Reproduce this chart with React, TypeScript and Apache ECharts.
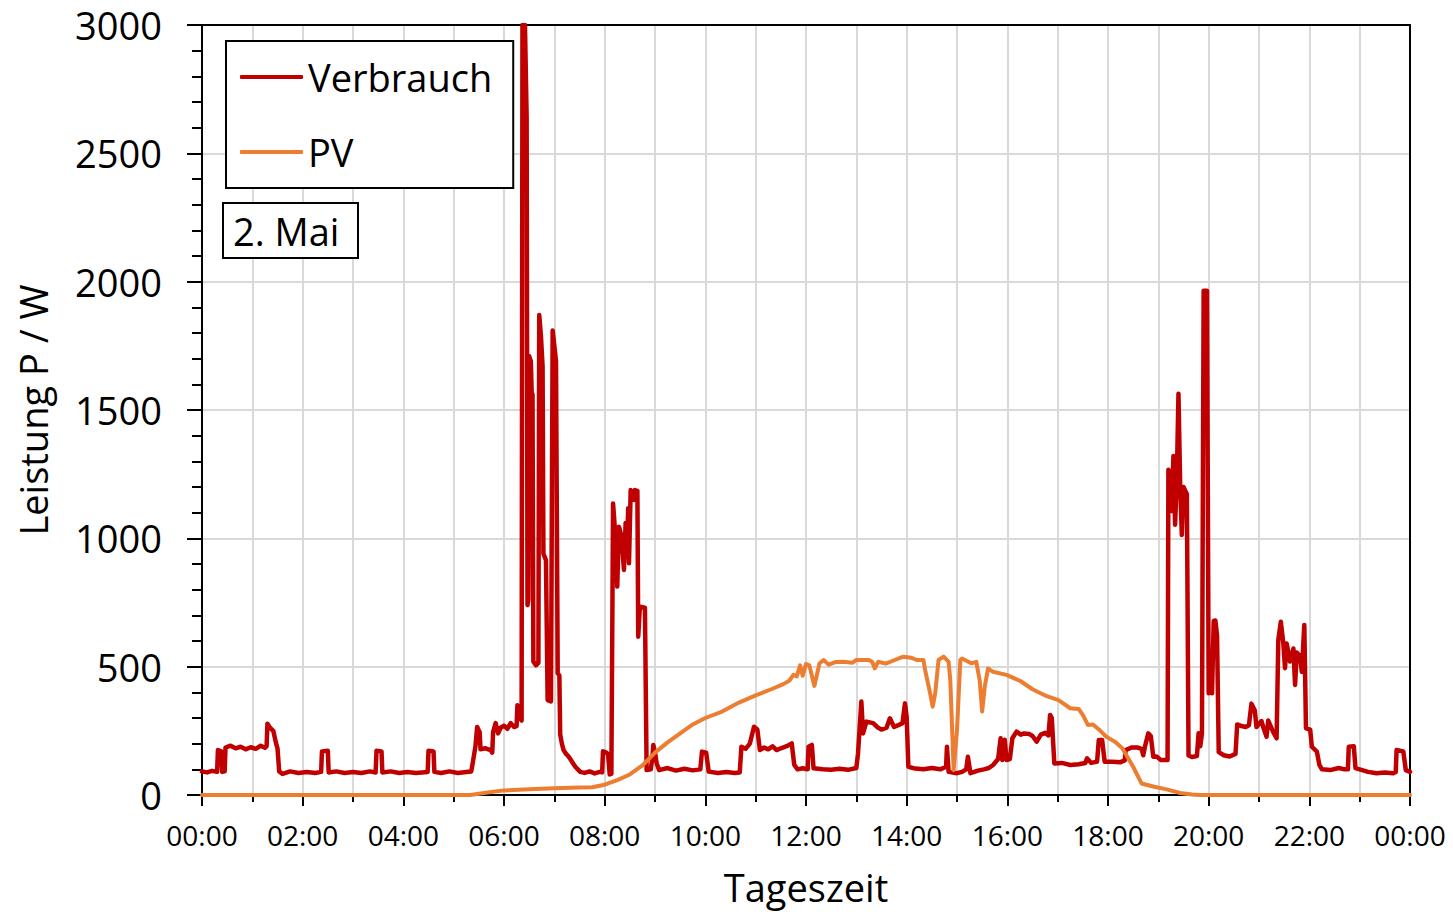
import React, { useEffect, useRef } from "react";
import * as echarts from "echarts";

const FONT = "'Open Sans', 'DejaVu Sans', sans-serif";

const seriesNames = ["Verbrauch", "PV"];
const seriesColors = ["#C00000", "#ED7D31"];
const dateLabel = "2. Mai";
const xAxisTitle = "Tageszeit";
const yAxisTitle = "Leistung P / W";

// [Uhrzeit, Leistung in W]
const verbrauch: [string, number][] = [
  ["00:00", 92], ["00:06", 88], ["00:12", 94], ["00:18", 90], ["00:19", 175], ["00:23", 170], ["00:24", 90],
  ["00:27", 92], ["00:28", 185], ["00:34", 192], ["00:40", 182], ["00:46", 188], ["00:52", 178], ["00:58", 186],
  ["01:04", 180], ["01:10", 192], ["01:15", 184], ["01:17", 190], ["01:18", 278], ["01:21", 262], ["01:25", 250],
  ["01:28", 205], ["01:30", 182], ["01:32", 92], ["01:36", 82], ["01:45", 92], ["01:55", 86], ["02:05", 90],
  ["02:15", 86], ["02:22", 90], ["02:23", 170], ["02:30", 172], ["02:31", 88], ["02:40", 92], ["02:50", 86],
  ["03:00", 90], ["03:10", 86], ["03:20", 92], ["03:27", 88], ["03:28", 172], ["03:34", 170], ["03:35", 88],
  ["03:45", 92], ["03:55", 86], ["04:05", 90], ["04:15", 86], ["04:29", 90], ["04:30", 172], ["04:36", 170],
  ["04:37", 90], ["04:45", 86], ["04:55", 92], ["05:05", 86], ["05:15", 90], ["05:21", 92], ["05:23", 130],
  ["05:26", 190], ["05:28", 265], ["05:31", 245], ["05:32", 178], ["05:38", 182], ["05:44", 175], ["05:46", 165],
  ["05:47", 245], ["05:50", 280], ["05:53", 240], ["05:56", 262], ["06:00", 270], ["06:04", 258], ["06:08", 280],
  ["06:12", 265], ["06:15", 268], ["06:16", 350], ["06:19", 300], ["06:21", 290],
  ["06:22", 3000], ["06:25", 3000], ["06:27", 2640], ["06:28", 740], ["06:29", 760], ["06:30", 1710],
  ["06:32", 1690], ["06:33", 1570], ["06:34", 1560], ["06:35", 520], ["06:38", 505], ["06:41", 515],
  ["06:42", 1870], ["06:44", 1790], ["06:46", 1670], ["06:47", 940], ["06:50", 915], ["06:52", 370],
  ["06:56", 365], ["06:58", 1810], ["07:01", 1720], ["07:02", 1690], ["07:04", 475], ["07:06", 465],
  ["07:07", 235], ["07:09", 200], ["07:11", 175], ["07:14", 160], ["07:17", 150], ["07:19", 140],
  ["07:22", 125], ["07:25", 110], ["07:28", 100], ["07:31", 90], ["07:36", 86], ["07:42", 92], ["07:48", 84],
  ["07:54", 90], ["07:57", 88], ["07:58", 170], ["08:02", 165], ["08:04", 160], ["08:06", 80], ["08:08", 82],
  ["08:10", 1136], ["08:13", 1000], ["08:15", 812], ["08:17", 1045], ["08:20", 1010], ["08:23", 877],
  ["08:25", 1060], ["08:27", 1000], ["08:28", 1117], ["08:29", 903], ["08:31", 1188], ["08:35", 1150],
  ["08:36", 1188], ["08:39", 1185], ["08:40", 617], ["08:42", 734], ["08:48", 730], ["08:50", 97],
  ["08:55", 100], ["08:57", 150], ["08:58", 195], ["09:00", 165], ["09:02", 123], ["09:05", 97], ["09:15", 105],
  ["09:25", 95], ["09:35", 102], ["09:45", 96], ["09:54", 100], ["09:56", 169], ["10:01", 165], ["10:04", 91],
  ["10:15", 86], ["10:25", 90], ["10:35", 86], ["10:41", 88], ["10:43", 188], ["10:48", 180], ["10:53", 200],
  ["10:58", 266], ["11:02", 255], ["11:05", 175], ["11:10", 185], ["11:15", 178], ["11:20", 190], ["11:25", 175],
  ["11:30", 182], ["11:37", 190], ["11:43", 201], ["11:46", 117], ["11:50", 100], ["11:56", 104], ["12:02", 100],
  ["12:03", 188], ["12:07", 195], ["12:09", 104], ["12:20", 100], ["12:30", 98], ["12:40", 102], ["12:50", 98],
  ["13:00", 105], ["13:02", 162], ["13:06", 364], ["13:08", 240], ["13:12", 286], ["13:20", 280], ["13:26", 262],
  ["13:30", 255], ["13:36", 262], ["13:40", 299], ["13:45", 265], ["13:50", 272], ["13:55", 280], ["13:58", 357],
  ["14:00", 305], ["14:02", 110], ["14:10", 103], ["14:20", 100], ["14:30", 105], ["14:40", 100], ["14:47", 110],
  ["14:48", 188], ["14:50", 90], ["15:00", 85], ["15:06", 90], ["15:11", 100], ["15:13", 149], ["15:16", 85],
  ["15:25", 95], ["15:32", 100], ["15:38", 105], ["15:43", 117], ["15:49", 140], ["15:52", 221], ["15:54", 136],
  ["15:57", 215], ["15:59", 136], ["16:03", 140], ["16:06", 221], ["16:11", 247], ["16:16", 235], ["16:20", 240],
  ["16:26", 238], ["16:30", 230], ["16:35", 208], ["16:40", 235], ["16:45", 242], ["16:49", 232], ["16:51", 312],
  ["16:53", 300], ["16:56", 123], ["17:05", 125], ["17:15", 117], ["17:25", 120], ["17:33", 125], ["17:35", 143],
  ["17:40", 125], ["17:47", 130], ["17:49", 214], ["17:53", 214], ["17:56", 130], ["18:05", 130], ["18:15", 128],
  ["18:20", 135], ["18:21", 175], ["18:28", 185], ["18:35", 185], ["18:40", 180], ["18:42", 155], ["18:44", 188],
  ["18:48", 240], ["18:51", 230], ["18:54", 149], ["18:58", 150], ["19:03", 136], ["19:11", 136],
  ["19:12", 1267], ["19:14", 1250], ["19:16", 1106], ["19:18", 1321], ["19:20", 1053], ["19:22", 1230],
  ["19:24", 1563], ["19:26", 1214], ["19:28", 1013], ["19:30", 1200], ["19:34", 1173], ["19:36", 154],
  ["19:40", 148], ["19:46", 152], ["19:48", 241], ["19:50", 190], ["19:52", 240], ["19:54", 1965], ["19:58", 1965],
  ["20:00", 396], ["20:02", 520], ["20:04", 396], ["20:06", 678], ["20:08", 680], ["20:10", 620], ["20:12", 167],
  ["20:18", 155], ["20:25", 150], ["20:32", 160], ["20:34", 275], ["20:38", 270], ["20:44", 265], ["20:48", 272],
  ["20:51", 356], ["20:55", 329], ["20:57", 265], ["21:03", 288], ["21:05", 265], ["21:09", 227], ["21:11", 290],
  ["21:17", 245], ["21:21", 221], ["21:23", 604], ["21:26", 675], ["21:29", 591], ["21:31", 494], ["21:33", 590],
  ["21:37", 520], ["21:41", 571], ["21:43", 429], ["21:45", 555], ["21:49", 540], ["21:51", 480], ["21:54", 662],
  ["21:56", 260], ["22:01", 255], ["22:03", 188], ["22:09", 169], ["22:12", 117], ["22:15", 100], ["22:25", 97],
  ["22:35", 105], ["22:42", 100], ["22:46", 100], ["22:47", 188], ["22:53", 190], ["22:55", 105], ["23:00", 100],
  ["23:10", 90], ["23:20", 85], ["23:30", 88], ["23:40", 85], ["23:43", 90], ["23:44", 175], ["23:52", 170],
  ["23:55", 97], ["24:00", 90],
];

// [Uhrzeit, Leistung in W]
const pv: [string, number][] = [
  ["00:00", 0], ["05:20", 0], ["05:30", 5], ["05:45", 12], ["06:00", 18], ["06:30", 22], ["07:00", 26],
  ["07:30", 29], ["07:45", 30], ["08:00", 40], ["08:15", 58], ["08:30", 80], ["08:45", 115], ["09:00", 165],
  ["09:15", 205], ["09:30", 240], ["09:45", 275], ["10:00", 300], ["10:20", 325], ["10:40", 360], ["11:00", 388],
  ["11:20", 414], ["11:33", 432], ["11:40", 445], ["11:45", 468], ["11:49", 462], ["11:53", 505], ["11:56", 465],
  ["12:00", 510], ["12:04", 505], ["12:10", 425], ["12:16", 512], ["12:21", 526], ["12:27", 508], ["12:35", 518],
  ["12:45", 519], ["12:55", 515], ["13:00", 526], ["13:15", 526], ["13:19", 518], ["13:22", 493], ["13:26", 519],
  ["13:35", 512], ["13:45", 525], ["13:56", 539], ["14:05", 535], ["14:12", 526], ["14:20", 526], ["14:22", 487],
  ["14:28", 396], ["14:31", 344], ["14:34", 396], ["14:38", 526], ["14:44", 539], ["14:50", 519], ["14:52", 448],
  ["14:56", 97], ["15:00", 253], ["15:04", 526], ["15:06", 532], ["15:17", 513], ["15:23", 519], ["15:27", 448],
  ["15:30", 325], ["15:33", 420], ["15:37", 493], ["15:43", 480], ["15:59", 468], ["16:15", 445], ["16:30", 412],
  ["16:47", 385], ["17:01", 370], ["17:15", 338], ["17:25", 335], ["17:30", 312], ["17:36", 273], ["17:42", 275],
  ["17:50", 253], ["17:58", 227], ["18:08", 208], ["18:17", 182], ["18:23", 149], ["18:30", 110], ["18:36", 71],
  ["18:40", 45], ["18:55", 32], ["19:10", 22], ["19:26", 8], ["19:40", 2], ["19:50", 0], ["24:00", 0],
];

const toMinutes = (t: string) => {
  const [h, m] = t.split(":").map(Number);
  return h * 60 + m;
};

const fmtTime = (v: number) => {
  const h = Math.floor((v % 1440) / 60);
  return `${String(h).padStart(2, "0")}:00`;
};

export default function App() {
  const ref = useRef<HTMLDivElement>(null);

  useEffect(() => {
    if (!ref.current) return;
    const chart = echarts.init(ref.current, undefined, { renderer: "svg" });
    const black = "#000";
    const gridLine = { lineStyle: { color: "#D9D9D9", width: 2 } };
    const frameAxisLine = { show: true, lineStyle: { color: black, width: 2 } };

    chart.setOption({
      animation: false,
      backgroundColor: "#fff",
      textStyle: { fontFamily: FONT },
      grid: { left: 202, right: 43, top: 25, bottom: 120, containLabel: false },
      title: {
        text: dateLabel,
        left: 223,
        top: 203,
        padding: [4, 19, 4, 10],
        borderColor: black,
        borderWidth: 2,
        backgroundColor: "#fff",
        textStyle: { fontSize: 38, fontWeight: "normal", fontFamily: FONT, color: black, lineHeight: 47 },
      },
      legend: {
        orient: "vertical",
        left: 226,
        top: 41,
        padding: [14, 21, 14, 14],
        itemGap: 31,
        itemWidth: 63,
        itemHeight: 4,
        icon: "roundRect",
        borderColor: black,
        borderWidth: 2,
        backgroundColor: "#fff",
        textStyle: { fontSize: 38, fontFamily: FONT, color: black, lineHeight: 44 },
        data: seriesNames,
      },
      xAxis: [
        {
          type: "value",
          min: 0,
          max: 1440,
          interval: 120,
          axisLine: frameAxisLine,
          axisTick: { show: true, length: 11, lineStyle: { color: black, width: 2 } },
          minorTick: { show: true, splitNumber: 2, length: 7, lineStyle: { color: black, width: 2 } },
          splitLine: { show: true, ...gridLine },
          minorSplitLine: { show: true, ...gridLine },
          axisLabel: { formatter: fmtTime, fontSize: 28, color: black, margin: 26, fontFamily: FONT },
          name: xAxisTitle,
          nameLocation: "middle",
          nameGap: 73,
          nameTextStyle: { fontSize: 38, color: black, fontFamily: FONT },
        },
        {
          type: "value",
          position: "top",
          min: 0,
          max: 1440,
          axisLine: { ...frameAxisLine, onZero: false },
          axisTick: { show: false },
          axisLabel: { show: false },
          splitLine: { show: false },
        },
      ],
      yAxis: [
        {
          type: "value",
          min: 0,
          max: 3000,
          interval: 500,
          axisLine: frameAxisLine,
          axisTick: { show: true, length: 15, lineStyle: { color: black, width: 2 } },
          minorTick: { show: true, splitNumber: 5, length: 10, lineStyle: { color: black, width: 2 } },
          splitLine: { show: true, ...gridLine },
          axisLabel: {
            formatter: (v: number) => String(v),
            fontSize: 38,
            color: black,
            margin: 40,
            fontFamily: FONT,
          },
          name: yAxisTitle,
          nameLocation: "middle",
          nameGap: 150,
          nameTextStyle: { fontSize: 38, color: black, fontFamily: FONT },
        },
        {
          type: "value",
          position: "right",
          min: 0,
          max: 3000,
          axisLine: { ...frameAxisLine, onZero: false },
          axisTick: { show: false },
          axisLabel: { show: false },
          splitLine: { show: false },
        },
      ],
      series: [
        {
          name: seriesNames[0],
          type: "line",
          xAxisIndex: 0,
          yAxisIndex: 0,
          symbol: "none",
          showSymbol: false,
          clip: true,
          color: seriesColors[0],
          lineStyle: { color: seriesColors[0], width: 4.5, join: "round", cap: "round" },
          data: verbrauch.map(([t, v]) => [toMinutes(t), v]),
        },
        {
          name: seriesNames[1],
          type: "line",
          xAxisIndex: 0,
          yAxisIndex: 0,
          symbol: "none",
          showSymbol: false,
          clip: true,
          color: seriesColors[1],
          lineStyle: { color: seriesColors[1], width: 4, join: "round", cap: "round" },
          data: pv.map(([t, v]) => [toMinutes(t), v]),
        },
      ],
    });

    return () => chart.dispose();
  }, []);

  return (
    <div
      ref={ref}
      style={{ position: "fixed", left: 0, top: 0, width: 1453, height: 915, background: "#fff" }}
    />
  );
}
